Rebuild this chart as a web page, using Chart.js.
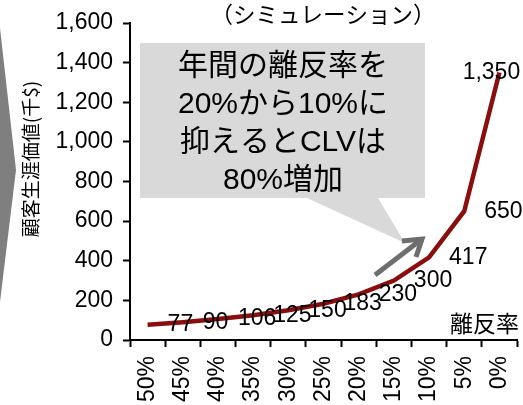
<html>
<head>
<meta charset="UTF-8">
<title>CLV simulation</title>
<script src="https://cdn.jsdelivr.net/npm/chart.js"></script>
<style>
  html, body { margin: 0; padding: 0; background: #fff; }
  .chart_container { width: 523px; height: 405px; position: relative; }
</style>
</head>
<body>
<div class="chart_container">
  <canvas id="clvChart"></canvas>
</div>
<script>
// data
const churnRates = ['50%', '45%', '40%', '35%', '30%', '25%', '20%', '15%', '10%', '5%', '0%'];
const clvValues = [77, 90, 106, 125, 150, 183, 230, 300, 417, 650, 1350];
const yMin = 0;
const yMax = 1600;
const yStep = 200;

// texts
const chartTitle = '（シミュレーション）';
const yAxisTitle = '顧客生涯価値(千$)';
const xAxisNote = '離反率';
const calloutLines = ['年間の離反率を', '20%から10%に', '抑えるとCLVは', '80%増加'];

const latin = "'Liberation Sans', Arial, 'Noto Sans CJK JP', sans-serif";
const cjk = "'Noto Sans CJK JP', 'Liberation Sans', sans-serif";

const extrasPlugin = {
    id: 'extras',
    beforeDraw(chart) {
        const c = chart.ctx;
        c.save();
        // gray chevron at the left edge
        c.fillStyle = '#7f7f7f';
        c.beginPath();
        c.moveTo(0, 28);
        c.lineTo(16, 170);
        c.lineTo(0, 302);
        c.closePath();
        c.fill();

        // callout box
        c.fillStyle = '#d9d9d9';
        c.beginPath();
        c.moveTo(140, 43);
        c.lineTo(425, 43);
        c.lineTo(425, 198);
        c.lineTo(378, 198);
        c.lineTo(405, 243);
        c.lineTo(307, 198);
        c.lineTo(140, 198);
        c.closePath();
        c.fill();

        c.fillStyle = '#000';
        c.textAlign = 'center';
        c.textBaseline = 'middle';
        c.font = '30px ' + latin;
        calloutLines.forEach(function (t, i) {
            c.fillText(t, 283, 67 + i * 38);
        });

        // title
        c.font = '22.5px ' + cjk;
        c.fillText(chartTitle, 323, 14);

        // y axis title
        c.save();
        c.translate(31, 159);
        c.rotate(-Math.PI / 2);
        c.font = '19px ' + cjk;
        c.fillText(yAxisTitle, 0, 0);
        c.restore();

        // x axis note
        c.textAlign = 'right';
        c.font = '23px ' + cjk;
        c.fillText(xAxisNote, 519, 323);
        c.restore();
    },
    afterDatasetsDraw(chart) {
        const c = chart.ctx;
        const meta = chart.getDatasetMeta(0);
        c.save();
        c.fillStyle = '#000';
        c.font = '23px ' + latin;
        c.textBaseline = 'middle';
        meta.data.forEach(function (pt, i) {
            const txt = clvValues[i].toLocaleString('en-US');
            if (i === meta.data.length - 1) {
                c.textAlign = 'center';
                c.fillText(txt, pt.x - 8, pt.y);
            } else {
                c.textAlign = 'left';
                c.fillText(txt, pt.x + 20, pt.y);
            }
        });

        // gray arrow
        c.strokeStyle = '#6e6e6e';
        c.lineWidth = 5;
        c.lineCap = 'butt';
        c.lineJoin = 'miter';
        c.beginPath();
        c.moveTo(375, 275);
        c.lineTo(422, 239);
        c.stroke();
        c.beginPath();
        c.moveTo(402, 241);
        c.lineTo(422, 239);
        c.lineTo(416, 257);
        c.stroke();
        c.restore();
    }
};

const config = {
    type: 'line',
    data: {
        labels: churnRates,
        datasets: [
            {
                data: clvValues,
                borderColor: '#8b0e0e',
                backgroundColor: '#8b0e0e',
                borderWidth: 4.5,
                pointRadius: 0,
                tension: 0
            }
        ]
    },
    options: {
        responsive: false,
        animation: false,
        layout: {
            padding: { top: 23, right: 6, left: 0, bottom: 0 }
        },
        plugins: {
            legend: { display: false },
            tooltip: { enabled: false }
        },
        scales: {
            x: {
                offset: true,
                grid: {
                    offset: true,
                    drawOnChartArea: false,
                    drawTicks: true,
                    tickLength: 7,
                    tickWidth: 2,
                    tickColor: '#000'
                },
                border: { color: '#000', width: 2 },
                ticks: {
                    color: '#000',
                    font: { family: latin, size: 23 },
                    minRotation: 90,
                    maxRotation: 90,
                    autoSkip: false,
                    padding: 9
                },
                afterFit(scale) {
                    scale.height = 65;
                    scale.paddingLeft = 0;
                    scale.paddingRight = 0;
                }
            },
            y: {
                min: yMin,
                max: yMax,
                grid: {
                    drawOnChartArea: false,
                    drawTicks: true,
                    tickLength: 7,
                    tickWidth: 2,
                    tickColor: '#000'
                },
                border: { color: '#000', width: 2 },
                ticks: {
                    stepSize: yStep,
                    color: '#000',
                    font: { family: latin, size: 23 },
                    padding: 10,
                    callback: function (v) { return v.toLocaleString('en-US'); }
                },
                afterFit(scale) {
                    scale.width = 130;
                    scale.paddingTop = 0;
                    scale.paddingBottom = 0;
                }
            }
        }
    },
    plugins: [extrasPlugin]
};

const canvas = document.getElementById('clvChart');
canvas.width = 523;
canvas.height = 405;
new Chart(canvas, config);
</script>
</body>
</html>
